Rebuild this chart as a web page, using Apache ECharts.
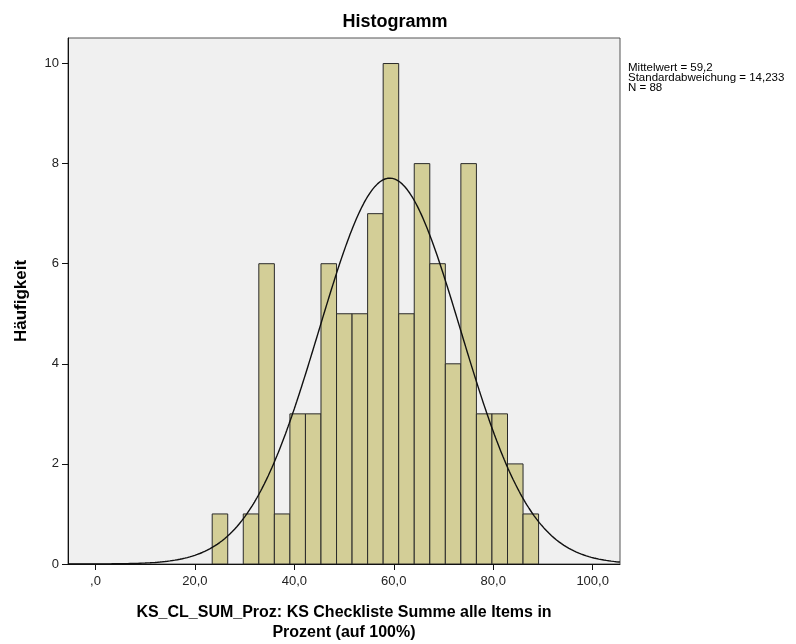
<!DOCTYPE html>
<html>
<head>
<meta charset="utf-8">
<script src="https://cdn.jsdelivr.net/npm/echarts@6/dist/echarts.min.js"></script>
<style>html,body{margin:0;padding:0;background:#fff}#c{width:796px;height:644px}</style>
</head>
<body>
<div id="c"></div>
<script>
// Histogram data
const binStart = 23.48;
const binWidth = 3.126;
const counts = [1, 0, 1, 6, 1, 3, 3, 6, 5, 5, 7, 10, 5, 8, 6, 4, 8, 3, 3, 2, 1];
// Statistics shown in the legend
const meanValue = 59.2;
const sdValue = 14.233;
const nValue = 88;
const statLines = ['Mittelwert = 59,2', 'Standardabweichung = 14,233', 'N = 88'];
// Axis ticks
const xTicks = [0, 20, 40, 60, 80, 100];
const xTickLabels = [',0', '20,0', '40,0', '60,0', '80,0', '100,0'];
const yTicks = [0, 2, 4, 6, 8, 10];
const titleText = 'Histogramm';
const xName = 'KS_CL_SUM_Proz: KS Checkliste Summe alle Items in\nProzent (auf 100%)';
const yName = 'Häufigkeit';

const xMin = -5.52, xMax = 105.5, yMax = 10.51;

const barData = counts.map((c, i) => [binStart + i * binWidth, binStart + (i + 1) * binWidth, c]).filter(d => d[2] > 0);

// fitted normal curve from the stated mean / sd / N
const curve = [];
for (let x = xMin; x <= xMax + 0.001; x += 0.25) {
  const z = (x - meanValue) / sdValue;
  curve.push([x, nValue * binWidth / (sdValue * Math.sqrt(2 * Math.PI)) * Math.exp(-0.5 * z * z)]);
}

const font = 'Liberation Sans, Arial, sans-serif';
const chart = echarts.init(document.getElementById('c'), null, {renderer: 'canvas'});
chart.setOption({
  animation: false,
  backgroundColor: '#ffffff',
  title: {
    text: titleText, left: 390, top: 8, textAlign: 'center',
    textStyle: {fontFamily: font, fontSize: 18, fontWeight: 'bold', color: '#000'}
  },
  grid: {
    left: 68, top: 38, right: 176, bottom: 80,
    outerBoundsMode: 'none', containLabel: false,
    show: true, backgroundColor: '#f0f0f0', borderColor: '#555', borderWidth: 1
  },
  xAxis: {
    type: 'value', min: xMin, max: xMax,
    name: xName, nameLocation: 'middle', nameGap: 39,
    nameTextStyle: {fontFamily: font, fontSize: 16, fontWeight: 'bold', color: '#000', lineHeight: 20},
    axisLine: {show: true, onZero: false, lineStyle: {color: '#111', width: 1}},
    axisTick: {show: true, length: 6, customValues: xTicks, lineStyle: {color: '#111'}},
    axisLabel: {
      customValues: xTicks, margin: 11, color: '#222', fontFamily: font, fontSize: 13,
      formatter: v => xTickLabels[xTicks.indexOf(v)] ?? ''
    },
    splitLine: {show: false}
  },
  yAxis: {
    type: 'value', min: 0, max: yMax,
    name: yName, nameLocation: 'middle', nameGap: 38,
    nameTextStyle: {fontFamily: font, fontSize: 17, fontWeight: 'bold', color: '#000'},
    axisLine: {show: true, onZero: false, lineStyle: {color: '#111', width: 1}},
    axisTick: {show: true, length: 6, customValues: yTicks, lineStyle: {color: '#111'}},
    axisLabel: {customValues: yTicks, margin: 9, color: '#222', fontFamily: font, fontSize: 13},
    splitLine: {show: false}
  },
  graphic: [{
    type: 'text', left: 628, top: 62,
    style: {text: statLines.join('\n'), fontFamily: font, fontSize: 11.5, lineHeight: 10, fill: '#000'}
  }],
  series: [{
    type: 'custom',
    data: barData,
    encode: {x: [0, 1], y: 2},
    clip: true,
    renderItem: function (params, api) {
      const p0 = api.coord([api.value(0), api.value(2)]);
      const p1 = api.coord([api.value(1), 0]);
      return {
        type: 'rect',
        shape: {x: p0[0], y: p0[1], width: p1[0] - p0[0], height: p1[1] - p0[1]},
        style: {fill: '#d3ce97', stroke: '#2a2a2a', lineWidth: 1}
      };
    }
  }, {
    type: 'line', data: curve, showSymbol: false, smooth: false, clip: true,
    lineStyle: {color: '#111', width: 1.4}, z: 5
  }]
});
</script>
</body>
</html>
